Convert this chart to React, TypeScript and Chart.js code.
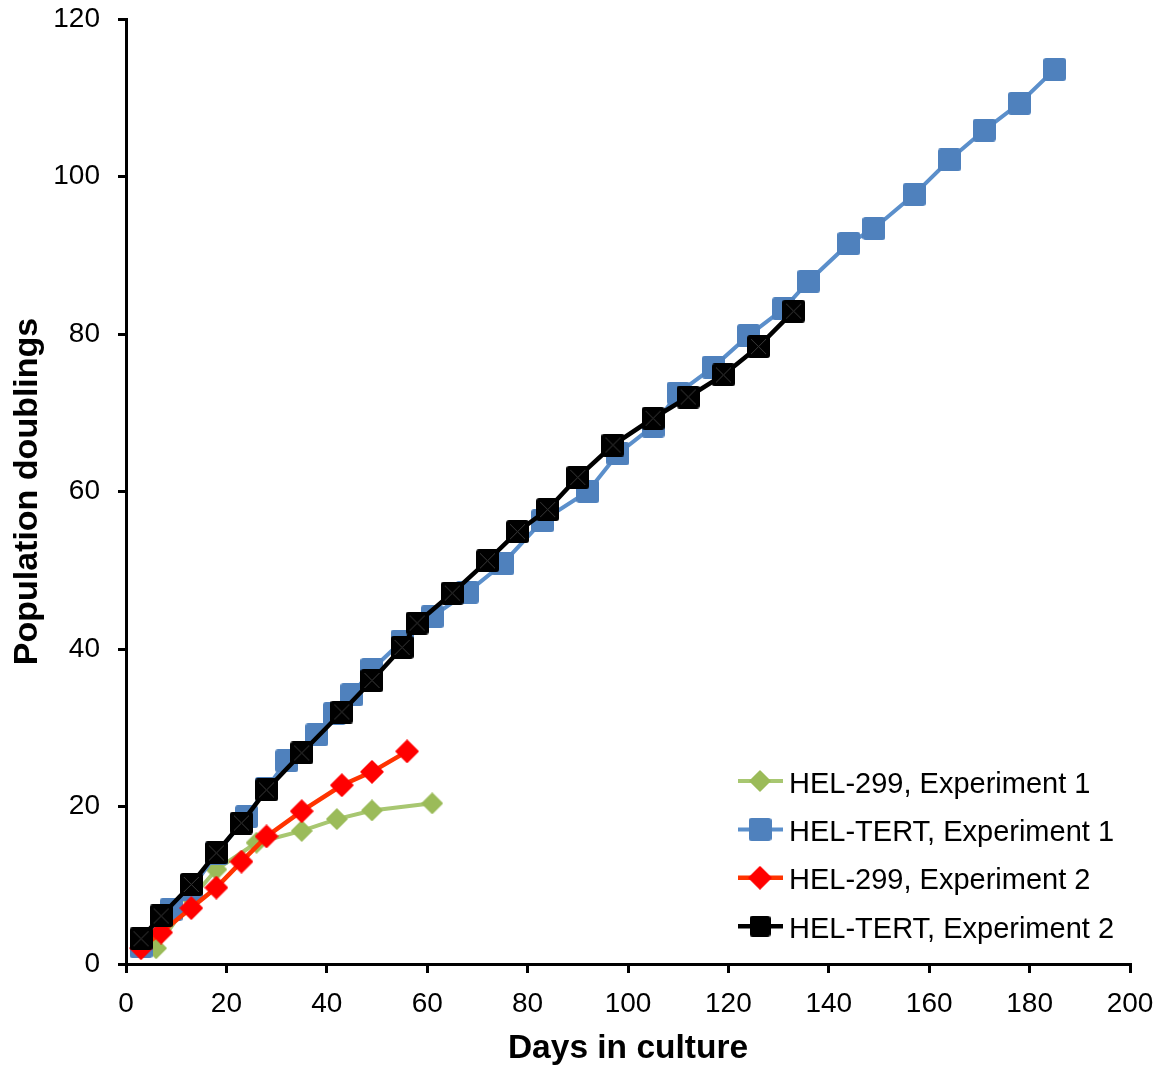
import React, { useEffect, useRef } from "react";
import { Chart, registerables } from "chart.js";

Chart.register(...registerables);

// ---------------- Data ----------------
const hel299Exp1Days = [6, 13, 18, 26, 35, 42, 49, 61];
const hel299Exp1Pd = [2.0, 8.3, 12.0, 15.4, 16.9, 18.4, 19.5, 20.4];

const helTertExp1Days = [3, 9, 13, 18, 24, 28, 32, 38, 41.5, 45, 49, 55, 61, 68, 75, 83, 92, 98, 105, 110, 117, 124, 131, 136, 144, 149, 157, 164, 171, 178, 185];
const helTertExp1Pd = [2.2, 6.9, 9.5, 14.0, 18.7, 22.3, 25.8, 29.1, 31.8, 34.2, 37.4, 41.0, 44.1, 47.2, 50.8, 56.3, 60.0, 64.8, 68.3, 72.5, 75.8, 79.8, 83.2, 86.7, 91.5, 93.4, 97.7, 102.1, 105.9, 109.3, 113.6];

const hel299Exp2Days = [3, 7, 13, 18, 23, 28, 35, 43, 49, 56];
const hel299Exp2Pd = [2.0, 4.0, 7.1, 9.7, 13.0, 16.2, 19.4, 22.7, 24.4, 27.0];

const helTertExp2Days = [3, 7, 13, 18, 23, 28, 35, 43, 49, 55, 58, 65, 72, 78, 84, 90, 97, 105, 112, 119, 126, 133];
const helTertExp2Pd = [3.2, 6.1, 10.1, 14.1, 17.9, 22.1, 26.8, 32.0, 36.0, 40.2, 43.3, 47.1, 51.2, 54.9, 57.7, 61.8, 65.9, 69.3, 72.0, 74.8, 78.4, 82.9];

const seriesLabels = [
  "HEL-299, Experiment 1",
  "HEL-TERT, Experiment 1",
  "HEL-299, Experiment 2",
  "HEL-TERT, Experiment 2",
];

const xTitle = "Days in culture";
const yTitle = "Population doublings";
const xMin = 0, xMax = 200, xStep = 20;
const yMin = 0, yMax = 120, yStep = 20;

const FONT = '"Liberation Sans", Arial, sans-serif';

// ---------------- Marker images ----------------
function roundRectPath(ctx: CanvasRenderingContext2D, x: number, y: number, w: number, h: number, r: number) {
  ctx.beginPath();
  ctx.moveTo(x + r, y);
  ctx.lineTo(x + w - r, y);
  ctx.quadraticCurveTo(x + w, y, x + w, y + r);
  ctx.lineTo(x + w, y + h - r);
  ctx.quadraticCurveTo(x + w, y + h, x + w - r, y + h);
  ctx.lineTo(x + r, y + h);
  ctx.quadraticCurveTo(x, y + h, x, y + h - r);
  ctx.lineTo(x, y + r);
  ctx.quadraticCurveTo(x, y, x + r, y);
  ctx.closePath();
}

function squareMarker(size: number, fill: string, cross: boolean) {
  const c = document.createElement("canvas");
  c.width = size; c.height = size;
  const ctx = c.getContext("2d")!;
  ctx.fillStyle = fill;
  roundRectPath(ctx, 0, 0, size, size, 3);
  ctx.fill();
  if (cross) {
    ctx.strokeStyle = "#3a3a3a";
    ctx.lineWidth = 1;
    ctx.beginPath();
    ctx.moveTo(4, 4); ctx.lineTo(size - 4, size - 4);
    ctx.moveTo(size - 4, 4); ctx.lineTo(4, size - 4);
    ctx.stroke();
  }
  return c;
}

function diamondMarker(size: number, fill: string) {
  const c = document.createElement("canvas");
  c.width = size; c.height = size;
  const ctx = c.getContext("2d")!;
  const h = size / 2;
  ctx.fillStyle = fill;
  ctx.strokeStyle = fill;
  ctx.lineJoin = "round";
  ctx.lineWidth = 1.5;
  ctx.beginPath();
  ctx.moveTo(h, 1); ctx.lineTo(size - 1, h); ctx.lineTo(h, size - 1); ctx.lineTo(1, h);
  ctx.closePath();
  ctx.fill();
  ctx.stroke();
  return c;
}

function pts(xs: number[], ys: number[]) {
  return xs.map((x, i) => ({ x, y: ys[i] }));
}

export default function App() {
  const ref = useRef<HTMLCanvasElement | null>(null);

  useEffect(() => {
    if (!ref.current) return;
    const greenImg = diamondMarker(22, "#9BBB59");
    const blueImg = squareMarker(23, "#4F81BD", false);
    const redImg = diamondMarker(24, "#FF0000");
    const blackImg = squareMarker(23, "#000000", true);
    const blackLegendImg = squareMarker(21, "#000000", false);

    const styles = [
      { line: "#A8C771", img: greenImg, legendImg: greenImg, width: 4 },
      { line: "#5B8FCB", img: blueImg, legendImg: blueImg, width: 4 },
      { line: "#FF3300", img: redImg, legendImg: redImg, width: 4.5 },
      { line: "#000000", img: blackImg, legendImg: blackLegendImg, width: 4.5 },
    ];
    const dataSets = [
      pts(hel299Exp1Days, hel299Exp1Pd),
      pts(helTertExp1Days, helTertExp1Pd),
      pts(hel299Exp2Days, hel299Exp2Pd),
      pts(helTertExp2Days, helTertExp2Pd),
    ];

    const legendPlugin = {
      id: "insideLegend",
      afterDraw(chart: any) {
        const { ctx, chartArea } = chart;
        ctx.save();
        const lx0 = chartArea.right - 392;
        const lx1 = lx0 + 45;
        const mx = lx0 + 22;
        const tx = lx0 + 51;
        const y0 = chartArea.bottom - 183;
        styles.forEach((s, i) => {
          const y = y0 + i * 48.4;
          ctx.strokeStyle = s.line;
          ctx.lineWidth = s.width;
          ctx.beginPath();
          ctx.moveTo(lx0, y);
          ctx.lineTo(lx1, y);
          ctx.stroke();
          ctx.drawImage(s.legendImg, mx - s.legendImg.width / 2, y - s.legendImg.height / 2);
          ctx.fillStyle = "#000";
          ctx.font = `29px ${FONT}`;
          ctx.textBaseline = "alphabetic";
          ctx.textAlign = "left";
          ctx.fillText(seriesLabels[i], tx, y + 11.5);
        });
        ctx.restore();
      },
    };

    const chart = new Chart(ref.current, {
      type: "scatter",
      data: {
        datasets: dataSets.map((d, i) => ({
          label: seriesLabels[i],
          data: d,
          showLine: true,
          borderColor: styles[i].line,
          borderWidth: styles[i].width,
          pointStyle: styles[i].img as any,
          pointRadius: 11,
          pointHoverRadius: 11,
          backgroundColor: styles[i].line,
          order: 4 - i,
          clip: false as any,
        })),
      },
      options: {
        animation: false,
        responsive: false,
        devicePixelRatio: 1,
        layout: { padding: { top: 19, right: 33, left: 0, bottom: 0 } },
        plugins: { legend: { display: false }, tooltip: { enabled: false } },
        scales: {
          x: {
            type: "linear",
            min: xMin,
            max: xMax,
            ticks: {
              stepSize: xStep,
              color: "#000",
              font: { size: 28, family: FONT },
              padding: 14,
              maxRotation: 0,
            },
            grid: { drawOnChartArea: false, drawTicks: true, tickLength: 9, color: "#000", lineWidth: 3 },
            border: { display: true, color: "#000", width: 3 },
            title: {
              display: true,
              text: xTitle,
              color: "#000",
              font: { size: 33.5, weight: "bold", family: FONT, lineHeight: 1.05 },
              padding: 0,
            },
            afterFit: (s: any) => {
              s.height = 102;
              s.paddingLeft = 0;
              s.paddingRight = 0;
            },
          },
          y: {
            type: "linear",
            min: yMin,
            max: yMax,
            ticks: {
              stepSize: yStep,
              color: "#000",
              font: { size: 28, family: FONT },
              padding: 18,
            },
            grid: { drawOnChartArea: false, drawTicks: true, tickLength: 8, color: "#000", lineWidth: 3 },
            border: { display: true, color: "#000", width: 3 },
            title: {
              display: true,
              text: yTitle,
              color: "#000",
              font: { size: 34, weight: "bold", family: FONT },
              padding: { top: 7, bottom: 0 },
            },
            afterFit: (s: any) => {
              s.width = 126;
              s.paddingTop = 0;
              s.paddingBottom = 0;
            },
          },
        },
      },
      plugins: [legendPlugin],
    } as any);

    return () => chart.destroy();
  }, []);

  return (
    <div style={{ position: "fixed", left: 0, top: 0, width: 1163, height: 1066, background: "#fff" }}>
      <canvas ref={ref} width={1163} height={1066} />
    </div>
  );
}
